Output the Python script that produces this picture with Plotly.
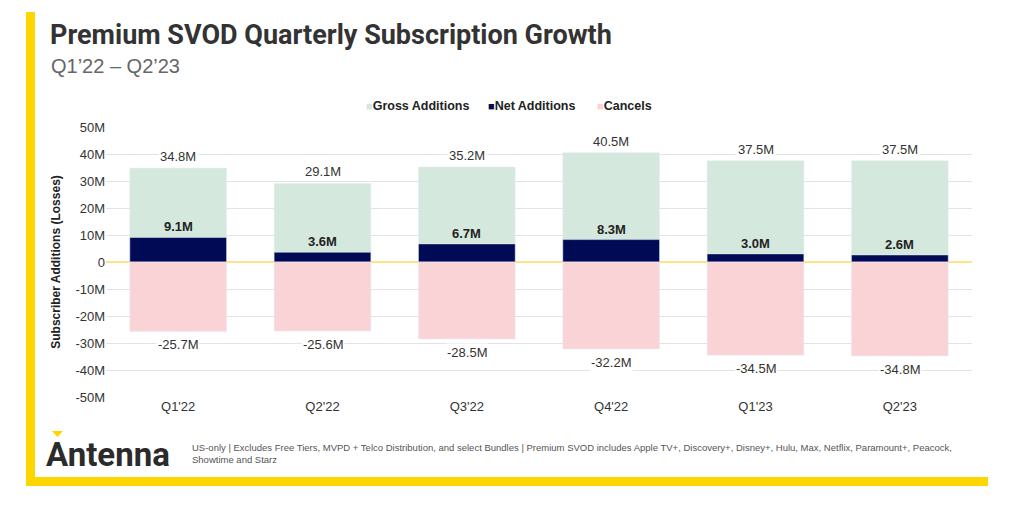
import plotly.graph_objects as go

quarters = ["Q1'22", "Q2'22", "Q3'22", "Q4'22", "Q1'23", "Q2'23"]
gross_adds = [34.8, 29.1, 35.2, 40.5, 37.5, 37.5]
net_adds = [9.1, 3.6, 6.7, 8.3, 3.0, 2.6]
cancels = [-25.7, -25.6, -28.5, -32.2, -34.5, -34.8]
y_ticks = [-50, -40, -30, -20, -10, 0, 10, 20, 30, 40, 50]
y_tick_labels = ["0" if v == 0 else "{}M".format(v) for v in y_ticks]
series_names = ["Gross Additions", "Net Additions", "Cancels"]

W, H = 1024, 505
L, R, T, B = 106, 52, 127, 108

GREEN = "#D5E8DD"
NAVY = "#000A55"
PINK = "#FAD3D7"
YELLOW = "#FFD500"
series_colors = [GREEN, NAVY, PINK]


def px(x):
    # pixel -> paper x
    return (x - L) / (W - L - R)


def py(y):
    # pixel (from top) -> paper y
    return (H - B - y) / (H - T - B)


fig = go.Figure()
for name, vals, col in zip(series_names, [gross_adds, net_adds, cancels], series_colors):
    fig.add_trace(go.Bar(x=quarters, y=vals, name=name, marker_color=col,
                         width=0.67, showlegend=False))

label_font = dict(family="Liberation Sans, Arial", size=13, color="#333333")
for q, g, n, c in zip(quarters, gross_adds, net_adds, cancels):
    fig.add_annotation(x=q, y=g, text="{:.1f}M".format(g), showarrow=False,
                       yanchor="bottom", yshift=2, bgcolor="white",
                       font=label_font, borderpad=1)
    fig.add_annotation(x=q, y=n, text="<b>{:.1f}M</b>".format(n), showarrow=False,
                       yanchor="bottom", yshift=1,
                       font=dict(family="Liberation Sans, Arial", size=13, color="#222222"))
    fig.add_annotation(x=q, y=c, text="{:.1f}M".format(c), showarrow=False,
                       yanchor="top", yshift=-4, bgcolor="white",
                       font=label_font, borderpad=1)

# legend drawn by hand so the swatches sit tight to the text
legend_x = [364, 486, 595]
for lx, name, col in zip(legend_x, series_names, series_colors):
    fig.add_annotation(xref="paper", yref="paper", x=px(lx), y=py(106), xanchor="left",
                       yanchor="middle", showarrow=False,
                       text="<span style='color:{}; font-size:11px'>\u25A0</span><b>{}</b>".format(col, name),
                       font=dict(family="Liberation Sans, Arial", size=12.5, color="#222222"))

# title block
fig.add_annotation(xref="paper", yref="paper", x=px(48), y=py(35), xanchor="left",
                   yanchor="middle", showarrow=False,
                   text="<b>Premium SVOD Quarterly Subscription Growth</b>",
                   font=dict(family="Roboto", size=27, color="#333333"))
fig.add_annotation(xref="paper", yref="paper", x=px(49), y=py(66), xanchor="left",
                   yanchor="middle", showarrow=False,
                   text="Q1\u201922 \u2013 Q2\u201923",
                   font=dict(family="Liberation Sans, Arial", size=20, color="#666666"))

# footer
fig.add_annotation(xref="paper", yref="paper", x=px(44), y=py(454), xanchor="left",
                   yanchor="middle", showarrow=False, text="<b>Antenna</b>",
                   font=dict(family="Roboto", size=33, color="#2b2b2b"))
fig.add_annotation(xref="paper", yref="paper", x=px(190), y=py(453), xanchor="left",
                   yanchor="middle", showarrow=False, align="left",
                   text="US-only | Excludes Free Tiers, MVPD + Telco Distribution, and select Bundles | "
                        "Premium SVOD includes Apple TV+, Discovery+, Disney+, Hulu, Max, Netflix, Paramount+, Peacock,"
                        "<br>Showtime and Starz",
                   font=dict(family="Liberation Sans, Arial", size=9.5, color="#555555"))

shapes = [
    dict(type="rect", xref="paper", yref="paper", x0=px(26), x1=px(35), y0=py(486), y1=py(12),
         fillcolor=YELLOW, line_width=0, layer="above"),
    dict(type="rect", xref="paper", yref="paper", x0=px(26), x1=px(988), y0=py(486), y1=py(477),
         fillcolor=YELLOW, line_width=0, layer="above"),
    dict(type="path", xref="paper", yref="paper",
         path="M {} {} L {} {} L {} {} Z".format(px(52), py(431), px(63), py(431), px(57.5), py(437)),
         fillcolor=YELLOW, line_width=0, layer="above"),
]

fig.update_layout(
    width=W, height=H,
    margin=dict(l=L, r=R, t=T, b=B),
    paper_bgcolor="white", plot_bgcolor="white",
    barmode="overlay",
    shapes=shapes,
    showlegend=False,
    xaxis=dict(tickfont=dict(family="Liberation Sans, Arial", size=13, color="#333333"),
               showgrid=False, showline=False, ticks=""),
    yaxis=dict(range=[-50, 50], tickvals=y_ticks, ticktext=y_tick_labels,
               tickfont=dict(family="Liberation Sans, Arial", size=13, color="#333333"),
               gridcolor="#E3E3E3", gridwidth=1,
               zeroline=True, zerolinecolor="#FFE38A", zerolinewidth=1.5,
               title=dict(text="<b>Subscriber Additions (Losses)</b>", standoff=12,
                          font=dict(family="Liberation Sans, Arial", size=12, color="#222222"))),
)

fig.write_html("out.html", config={"displayModeBar": False},
               post_script="document.body.style.margin='0';document.body.style.overflow='hidden';")
